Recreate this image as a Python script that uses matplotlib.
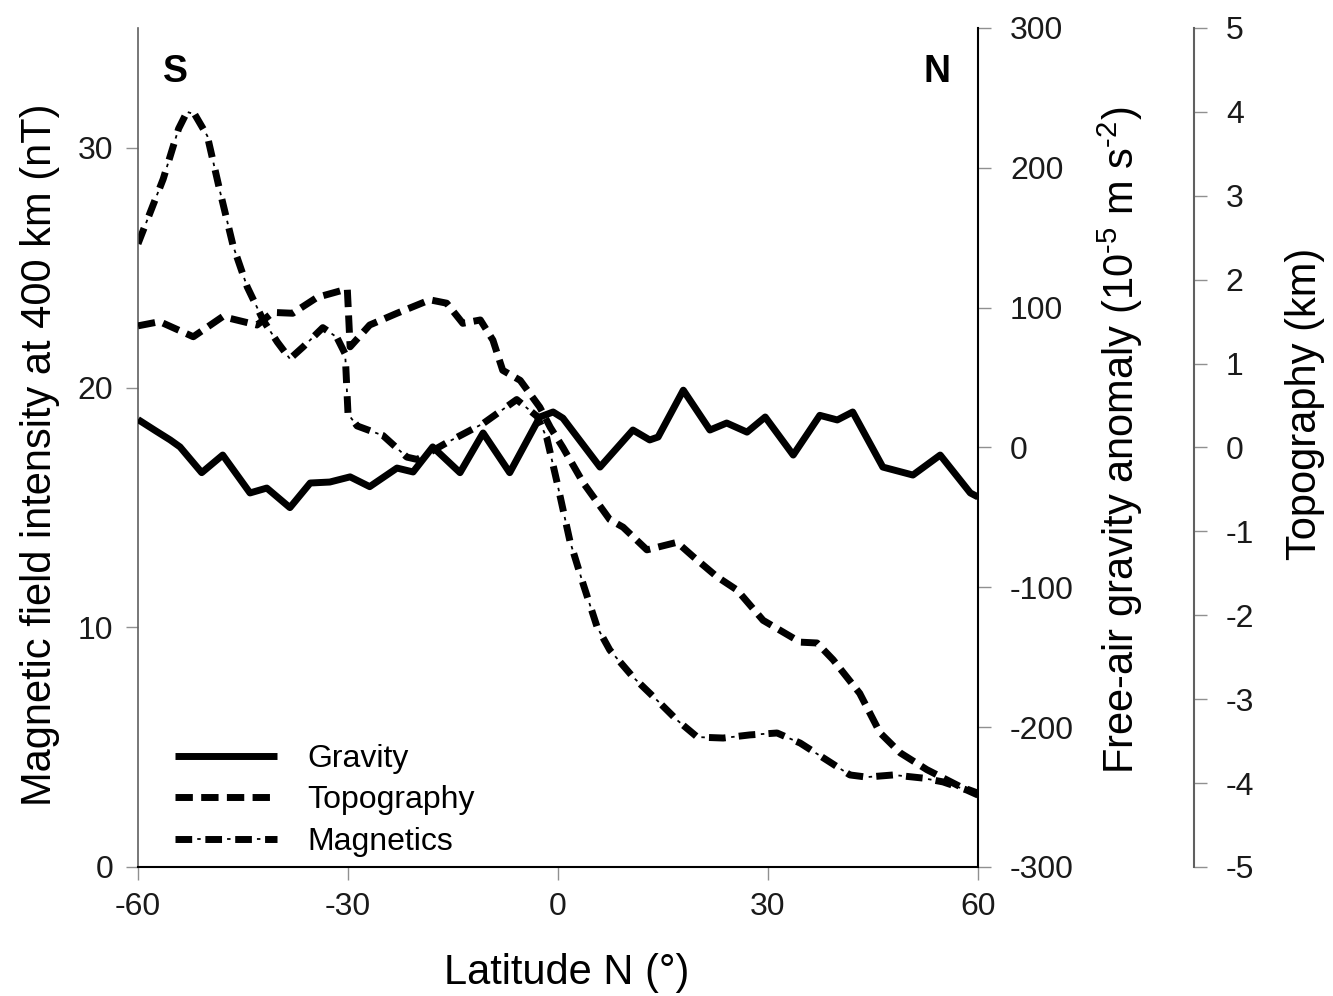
import numpy as np
import matplotlib
matplotlib.use("Agg")
import matplotlib.pyplot as plt

plt.rcParams['font.family'] = ['Liberation Sans', 'DejaVu Sans']
plt.rcParams['mathtext.fontset'] = 'custom'
plt.rcParams['mathtext.rm'] = 'Liberation Sans'
plt.rcParams['mathtext.default'] = 'regular'
plt.rcParams['axes.unicode_minus'] = False
plt.rcParams['lines.scale_dashes'] = False

# --- datos ---
# gravedad: anomalia de aire libre (10^-5 m s^-2)
grav_lat = [-60, -57.5, -55.4, -54, -50.9, -47.9, -44, -41.6, -38.3, -35.4, -32.6,
            -29.7, -26.9, -23, -20.7, -17.9, -14, -10.7, -6.9, -2.6, -0.7,
            0.7, 6, 10.7, 13.1, 14.3, 17.9, 21.7, 24.1, 27, 29.6,
            33.6, 37.4, 39.9, 42.1, 46.4, 50.7, 54.6, 58.9, 60]
grav_val = [20, 12, 5.4, 0.4, -18, -5.4, -32.5, -29, -43, -25.4, -24.7,
            -21, -28, -14.7, -17.5, 0.4, -18, 10.4, -18, 21.8, 25.4,
            21, -14, 12.5, 5.4, 7.5, 41, 12.5, 17.5, 11, 21.8,
            -5.4, 23, 19.7, 25.4, -14, -19.7, -5.4, -32.5, -35.4]

# topografia (km)
topo_lat = [-60, -56.9, -52.1, -47.9, -43, -40.7, -37.9, -34.4, -30.1, -29.7,
            -26.9, -23, -18.3, -15.9, -13.6, -11.1, -9.3, -7.9, -5.4, -2.6,
            -1.1, 0.7, 3.6, 7.4, 9.3, 12.7, 17, 19.3, 22.7, 25.6,
            29.3, 34.6, 37, 39.3, 43.1, 46, 48.9, 52.7, 57.4, 60]
topo_val = [1.45, 1.50, 1.32, 1.56, 1.46, 1.61, 1.60, 1.79, 1.89, 1.20,
            1.46, 1.60, 1.76, 1.72, 1.48, 1.52, 1.28, 0.92, 0.80, 0.48,
            0.24, 0.0, -0.42, -0.86, -0.95, -1.22, -1.13, -1.30, -1.54, -1.70,
            -2.06, -2.32, -2.33, -2.53, -2.93, -3.40, -3.64, -3.84, -4.04, -4.12]

# magnetismo (nT)
mag_lat = [-60, -56.4, -54.2, -53, -51.9, -50.1, -48.3, -46.4, -44.4, -42.1, -40.1,
           -38.3, -36.4, -33.6, -31.6, -30.4, -30, -28.7, -25, -21.6, -20.1,
           -15.9, -10.7, -5.9, -3, -1.6, -0.1, 1.7, 3.6, 5.6, 7.4,
           10.7, 14.1, 17, 19.9, 23.6, 27.4, 31.3, 34.6, 38.4, 41.7,
           44.1, 47.9, 52.1, 55, 58.4, 60]
mag_val = [26.0, 28.7, 30.8, 31.5, 31.4, 30.5, 28.2, 25.9, 24.2, 22.8, 21.9,
           21.2, 21.7, 22.5, 22.1, 21.4, 18.9, 18.4, 18.0, 17.1, 17.0,
           17.7, 18.5, 19.5, 18.8, 17.9, 16.0, 13.6, 11.8, 10.0, 9.05,
           7.93, 6.97, 6.13, 5.42, 5.38, 5.51, 5.59, 5.17, 4.46, 3.84,
           3.75, 3.84, 3.71, 3.55, 3.21, 3.0]

fig = plt.figure(figsize=(13.33, 9.96), dpi=100)
ax = fig.add_axes([0.10353, 0.12952, 0.63016, 0.84237])
ax_g = ax.twinx()
ax_t = ax.twinx()
ax_t.spines['right'].set_position(('axes', 1.257))

lw = 5.0
# magneticos: trazo grueso + punto fino
l_mag1, = ax.plot(mag_lat, mag_val, color='black', lw=lw,
                  linestyle=(0, (12, 9.5)), solid_joinstyle='round')
l_mag2, = ax.plot(mag_lat, mag_val, color='black', lw=1.3,
                  linestyle=(5.5, (2.5, 19)))
l_grav, = ax_g.plot(grav_lat, grav_val, color='black', lw=lw,
                    solid_joinstyle='round', solid_capstyle='butt')
l_topo, = ax_t.plot(topo_lat, topo_val, color='black', lw=lw,
                    linestyle=(0, (12.5, 6)))

ax.set_xlim(-60, 60)
ax.set_ylim(0, 35)
ax_g.set_ylim(-300, 300)
ax_t.set_ylim(-5, 5)
ax.set_xticks([-60, -30, 0, 30, 60])
ax.set_yticks([0, 10, 20, 30])
ax_g.set_yticks(np.arange(-300, 301, 100))
ax_t.set_yticks(np.arange(-5, 6, 1))

# --- ejes / spines ---
ax.spines['top'].set_visible(False)
ax.spines['right'].set_visible(False)
ax.spines['left'].set_color('#606060')
ax.spines['bottom'].set_color('black')
ax.spines['left'].set_linewidth(1.2)
ax.spines['bottom'].set_linewidth(1.5)
for a in (ax_g, ax_t):
    for s in ('top', 'left', 'bottom'):
        a.spines[s].set_visible(False)
ax_g.spines['right'].set_color('black')
ax_g.spines['right'].set_linewidth(1.5)
ax_t.spines['right'].set_color('#606060')
ax_t.spines['right'].set_linewidth(1.5)

tick_kw = dict(direction='out', length=9, width=1, color='#909090',
               labelsize=23, labelcolor='#1a1a1a', pad=9)
ax.tick_params(axis='both', **tick_kw)
ax_g.tick_params(axis='y', **tick_kw)
ax_t.tick_params(axis='y', **tick_kw)
ax_g.tick_params(axis='y', pad=14)
ax_t.tick_params(axis='y', pad=14)

# --- etiquetas ---
ax.set_xlabel('Latitude N (°)', fontsize=30, va='center')
ax.xaxis.set_label_coords(0.5107, -0.1263)
ax.set_ylabel('Magnetic field intensity at 400 km (nT)', fontsize=30, va='center')
ax.yaxis.set_label_coords(-0.1167, 0.491)
ax_g.set_ylabel('Free-air gravity anomaly (10$^{\u20105}$ m s$^{\u20102}$)',
                fontsize=30, va='center')
ax_g.yaxis.set_label_coords(1.169, 0.509)
ax_t.set_ylabel('Topography (km)', fontsize=30, va='center')
ax_t.yaxis.set_label_coords(1.389, 0.552)

ax.text(0.044, 0.9476, 'S', transform=ax.transAxes, fontsize=27,
        fontweight='bold', ha='center', va='center')
ax.text(0.951, 0.9476, 'N', transform=ax.transAxes, fontsize=27,
        fontweight='bold', ha='center', va='center')

ax_t.legend([l_grav, l_topo, (l_mag1, l_mag2)],
            ['Gravity', 'Topography', 'Magnetics'],
            loc='lower left', bbox_to_anchor=(0.044, 0.012),
            frameon=False, borderpad=0, borderaxespad=0,
            handlelength=3.2, handletextpad=0.95, labelspacing=0.36,
            fontsize=23)

fig.savefig('out.png', dpi=100)
